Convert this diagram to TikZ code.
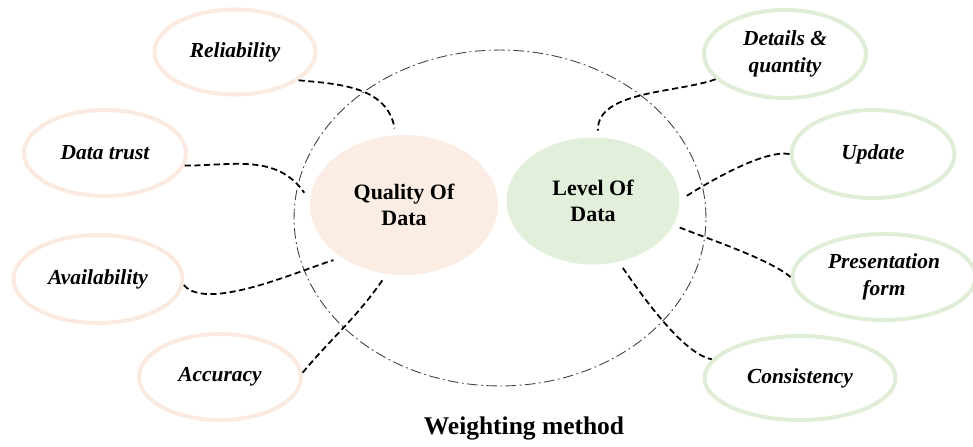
\documentclass[tikz,border=0pt]{standalone}
\usepackage{fontspec}
\setmainfont{Liberation Serif}
\usetikzlibrary{shapes.geometric}
\definecolor{peachfill}{HTML}{FBEDE3}
\definecolor{peachline}{HTML}{FBEADF}
\definecolor{greenfill}{HTML}{E2EFDA}
\definecolor{greenline}{HTML}{E0EDD7}
\tikzset{
  core/.style={ellipse, inner sep=0pt, outer sep=4pt, align=center,
    font=\fontsize{12.5}{14.5}\selectfont\bfseries},
  leaf/.style={ellipse, draw, line width=2.3pt, inner sep=0pt, align=center,
    text=black, minimum width=3.24cm, minimum height=1.72cm,
    font=\fontsize{12.2}{15}\selectfont\bfseries\itshape},
  link/.style={line width=1pt, dash pattern=on 3.5pt off 2pt},
}
\begin{document}
\begin{tikzpicture}[x=0.02cm, y=-0.02cm]
      \useasboundingbox (0,0) rectangle (973,446);
      \draw[line width=0.5pt, black!75, dash pattern=on 6pt off 2pt on 1pt off 2pt]
        (500,218) ellipse [x radius=4.12cm, y radius=3.36cm];
      \node[core, fill=peachfill, minimum width=3.76cm, minimum height=2.8cm]
        (qual) at (404,205) {Quality Of\\Data};
      \node[core, fill=greenfill, minimum width=3.46cm, minimum height=2.54cm]
        (lev) at (593,201) {Level Of\\Data};
      \draw[peachline]
        (235,52) node[leaf, minimum width=3.22cm, minimum height=1.7cm] (rel) {Reliability}
        (105,153) node[leaf] (trust) {Data trust}
        (98,279) node[leaf, minimum width=3.38cm, minimum height=1.76cm] (avail) {Availability}
        (220,377) node[leaf] (acc) {Accuracy};
      \draw[greenline]
        (785,54) node[leaf, minimum height=1.76cm] (det) {Details \&\\quantity}
        (873,154) node[leaf, minimum width=3.26cm, minimum height=1.76cm] (upd) {Update}
        (884,277) node[leaf, minimum width=3.66cm] (pres) {Presentation\\form}
        (800,378) node[leaf, minimum width=3.82cm, minimum height=1.68cm] (cons) {Consistency};
      \begin{scope}[link]
        \draw (rel.-24) to[out=-5, in=100] (qual.97);
        \draw (trust.-9) to[out=0, in=125] (qual.173);
        \draw (avail.-4) to[out=-50, in=197, looseness=0.6] (qual.218);
        \draw (acc.3) to[out=50, in=235] (qual.254);
        \draw (det.200) to[out=200, in=92, looseness=0.8] (lev.86);
        \draw (upd.180) to[out=170, in=32, looseness=0.6] (lev.3);
        \draw (lev.-17) to[out=-22, in=140, looseness=0.6] (pres.180);
        \draw (lev.-66) to[out=-55, in=170, looseness=0.6] (cons.168);
      \end{scope}
      \node[font=\fontsize{14.5}{17}\selectfont\bfseries] (title) at (524,428) {Weighting method};
    \end{tikzpicture}
\end{document}
